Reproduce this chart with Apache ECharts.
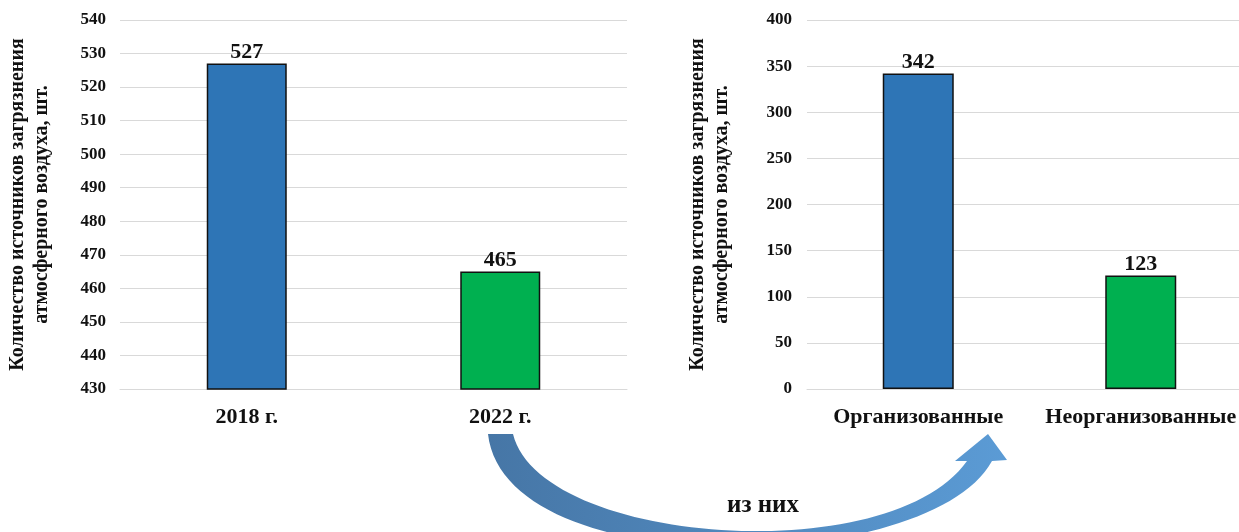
<!DOCTYPE html>
<html>
<head>
<meta charset="utf-8">
<script src="https://cdn.jsdelivr.net/npm/echarts@6/dist/echarts.min.js"></script>
<style>
  html, body { margin: 0; padding: 0; background: #ffffff; }
  #chart { width: 1239px; height: 532px; }
</style>
</head>
<body>
<div id="chart"></div>
<script>
// Source counts: total by year, and the 2022 total split by type
const yearCategories = ['2018 г.', '2022 г.'];
const yearValues = [527, 465];
const yearTicks = { min: 430, max: 540, interval: 10 };

const typeCategories = ['Организованные', 'Неорганизованные'];
const typeValues = [342, 123];
const typeTicks = { min: 0, max: 400, interval: 50 };

const axisTitle = 'Количество источников загрязнения\nатмосферного воздуха, шт.';
const linkText = 'из них';

const barColors = ['#2e75b6', '#00b050'];
const FONT = 'Liberation Serif';

const chart = echarts.init(document.getElementById('chart'), null, { renderer: 'canvas' });

function xAxisFor(cats, gridIndex) {
  return {
    type: 'category',
    gridIndex: gridIndex,
    data: cats,
    axisLine: { show: true, lineStyle: { color: '#d9d9d9', width: 1 } },
    axisTick: { show: false },
    axisLabel: {
      interval: 0, hideOverlap: false,
      color: '#111', fontFamily: FONT, fontWeight: 700, fontSize: 22, margin: 17
    }
  };
}

function yAxisFor(ticks, gridIndex, nameGap, labelMargin) {
  return {
    type: 'value',
    gridIndex: gridIndex,
    min: ticks.min, max: ticks.max, interval: ticks.interval,
    name: axisTitle,
    nameLocation: 'middle',
    nameRotate: 90,
    nameGap: nameGap,
    nameMoveOverlap: false,
    nameTextStyle: { color: '#111', fontFamily: FONT, fontWeight: 700, fontSize: 20, lineHeight: 24 },
    axisLine: { show: false },
    axisTick: { show: false },
    splitLine: { show: true, lineStyle: { color: '#d9d9d9', width: 1 } },
    axisLabel: { color: '#111', fontFamily: FONT, fontWeight: 700, fontSize: 17, margin: labelMargin }
  };
}

function barSeries(values, axisIndex, width) {
  return {
    type: 'bar',
    xAxisIndex: axisIndex,
    yAxisIndex: axisIndex,
    barWidth: width,
    data: values.map((v, i) => ({
      value: v,
      itemStyle: { color: barColors[i], borderColor: '#111', borderWidth: 1.5 }
    })),
    label: {
      show: true, position: 'top', distance: 0,
      color: '#111', fontFamily: FONT, fontWeight: 700, fontSize: 22
    },
    silent: true
  };
}

// Curved "из них" arrow from the 2022 column to the breakdown chart
function cubic(p0, p1, p2, p3, t) {
  const u = 1 - t;
  return [
    u*u*u*p0[0] + 3*u*u*t*p1[0] + 3*u*t*t*p2[0] + t*t*t*p3[0],
    u*u*u*p0[1] + 3*u*u*t*p1[1] + 3*u*t*t*p2[1] + t*t*t*p3[1]
  ];
}
function sampleCurve(p0, p1, p2, p3, n) {
  const pts = [];
  for (let i = 0; i <= n; i++) pts.push(cubic(p0, p1, p2, p3, i / n));
  return pts;
}
const outerEdge = sampleCurve([488, 434], [505, 585], [930, 575], [992, 461], 60);
const innerEdge = sampleCurve([513, 434], [540, 545], [890, 570], [967, 461], 60).reverse();
const arrowPoints = outerEdge
  .concat([[1007, 460], [988, 434], [955, 461]])
  .concat(innerEdge);

const option = {
  backgroundColor: '#ffffff',
  animation: false,
  grid: [
    { left: 120, right: 612, top: 20, bottom: 143, outerBoundsMode: 'none', containLabel: false },
    { left: 807, right: -13, top: 20, bottom: 143, outerBoundsMode: 'none', containLabel: false }
  ],
  xAxis: [xAxisFor(yearCategories, 0), xAxisFor(typeCategories, 1)],
  yAxis: [yAxisFor(yearTicks, 0, 66, 14), yAxisFor(typeTicks, 1, 73, 15)],
  series: [barSeries(yearValues, 0, 80), barSeries(typeValues, 1, 71)],
  graphic: [
    {
      type: 'polygon',
      shape: { points: arrowPoints },
      style: {
        fill: new echarts.graphic.LinearGradient(0, 0, 1, 0, [
          { offset: 0, color: '#4676a6' },
          { offset: 1, color: '#5b9bd5' }
        ])
      },
      silent: true
    },
    {
      type: 'text',
      x: 763, y: 506,
      style: {
        text: linkText, fill: '#111',
        font: 'bold 25px "Liberation Serif"',
        align: 'center', verticalAlign: 'middle'
      }
    }
  ]
};

chart.setOption(option);
</script>
</body>
</html>
